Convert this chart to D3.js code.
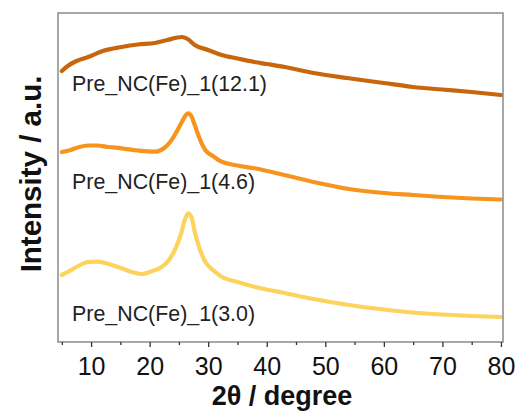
<!DOCTYPE html>
<html>
<head>
<meta charset="utf-8">
<script src="https://cdn.jsdelivr.net/npm/d3@7/dist/d3.min.js"></script>
<style>
  html, body { margin: 0; padding: 0; background: #fff; }
  svg { display: block; }
</style>
</head>
<body>
<svg id="chart" width="517" height="414"></svg>
<script>
// ---- data (2θ in degrees, intensity in a.u.) ----
const seriesNames = ["Pre_NC(Fe)_1(12.1)", "Pre_NC(Fe)_1(4.6)", "Pre_NC(Fe)_1(3.0)"];
const seriesColors = ["#C7660C", "#F7941E", "#FCD35C"];

const s121 = [
  [5.0,271],[6.0,276],[7.5,281],[9.5,285],[12,291],[15.2,295],[18,297.5],[20.9,299],
  [23,302],[25.5,305],[26.5,303],[27.7,297],[30,292],[32.3,287],[35,283.5],[37.9,280],
  [40,278],[43.1,275],[48,269],[53.7,264],[60,259],[65,255],[70,252.5],[75,250],[80,247]
];
const s46 = [
  [5.0,190],[6.5,192],[8,195],[9.5,196.5],[11,196.5],[13,195],[15.2,193.7],[18,191.5],
  [20.9,190.3],[22.5,194],[23.5,200],[24.5,209],[25.5,220],[26.2,227],[26.6,228.7],
  [27.2,225],[27.7,217],[28.5,204],[29.5,192],[30.8,186],[32.3,180.3],[35,176.5],
  [37.9,173.7],[43,167],[48,160],[54,153],[60,149],[65,147],[70,145],[75,143.5],[80,142.5]
];
const s30 = [
  [5.0,67],[6,70],[7.5,75],[9.5,80],[11.2,80.3],[13,78],[15.2,73.7],[17,70],[18.6,68],
  [20.5,71],[22.1,75.3],[23.3,82],[24.3,92],[25.3,107],[26.0,122],[26.6,128.7],[27.2,124],
  [27.7,110.3],[28.5,94],[29.5,80.3],[30.8,72],[32.3,65.3],[35,60],[37.9,55.3],[43,49],
  [48,43],[54,37],[60,32.5],[65,29.5],[70,27.5],[75,26],[80,25]
];
const seriesData = [s121, s46, s30];

const majorTicks = [10, 20, 30, 40, 50, 60, 70, 80];
const minorTicks = [5, 15, 25, 35, 45, 55, 65, 75];

const xLabel = "2\u03B8 / degree";
const yLabel = "Intensity / a.u.";

// ---- layout ----
const svg = d3.select("#chart");
const mLeft = 58, mRight = 503, mTop = 13, mBottom = 342;

const x = d3.scaleLinear().domain([4.35, 80.35]).range([mLeft, mRight]);
const y = d3.scaleLinear().domain([0, 329]).range([mBottom, mTop]);

// series lines
const line = d3.line()
  .x(d => x(d[0]))
  .y(d => y(d[1]))
  .curve(d3.curveMonotoneX);

svg.append("g").selectAll("path")
  .data(seriesData)
  .join("path")
  .attr("d", d => line(d))
  .attr("fill", "none")
  .attr("stroke", (d, i) => seriesColors[i])
  .attr("stroke-width", 4.2)
  .attr("stroke-linejoin", "round")
  .attr("stroke-linecap", "round");

// frame
svg.append("rect")
  .attr("x", mLeft).attr("y", mTop)
  .attr("width", mRight - mLeft).attr("height", mBottom - mTop)
  .attr("fill", "none")
  .attr("stroke", "#8a8a8a")
  .attr("stroke-width", 1.5);

// axes
const xAxisMinor = d3.axisBottom(x).tickValues(minorTicks).tickSize(3).tickFormat("");
const xAxisMajor = d3.axisBottom(x).tickValues(majorTicks).tickSize(5).tickPadding(10).tickFormat(d3.format("d"));

const gMinor = svg.append("g").attr("transform", `translate(0,${mBottom})`).call(xAxisMinor);
gMinor.select(".domain").remove();
gMinor.selectAll("line").attr("stroke", "#333").attr("stroke-width", 1.3);

const gMajor = svg.append("g").attr("transform", `translate(0,${mBottom})`).call(xAxisMajor);
gMajor.select(".domain").remove();
gMajor.selectAll("line").attr("stroke", "#333").attr("stroke-width", 1.3);
gMajor.selectAll("text")
  .attr("font-family", "'Liberation Sans', Arial, sans-serif")
  .attr("font-size", 25)
  .attr("fill", "#111");

// axis titles
svg.append("text")
  .attr("x", 282).attr("y", 405)
  .attr("text-anchor", "middle")
  .attr("font-family", "'Liberation Sans', Arial, sans-serif")
  .attr("font-weight", "bold")
  .attr("font-size", 27)
  .attr("fill", "#111")
  .text(xLabel);

svg.append("text")
  .attr("transform", "translate(41,174) rotate(-90)")
  .attr("text-anchor", "middle")
  .attr("font-family", "'Liberation Sans', Arial, sans-serif")
  .attr("font-weight", "bold")
  .attr("font-size", 29.5)
  .attr("fill", "#111")
  .text(yLabel);

// series labels
const labelY = [91, 189, 321];
svg.append("g").selectAll("text")
  .data(seriesNames)
  .join("text")
  .attr("x", 72)
  .attr("y", (d, i) => labelY[i])
  .attr("font-family", "'Liberation Sans', Arial, sans-serif")
  .attr("font-size", 21.4)
  .attr("fill", "#222")
  .text(d => d);
</script>
</body>
</html>
